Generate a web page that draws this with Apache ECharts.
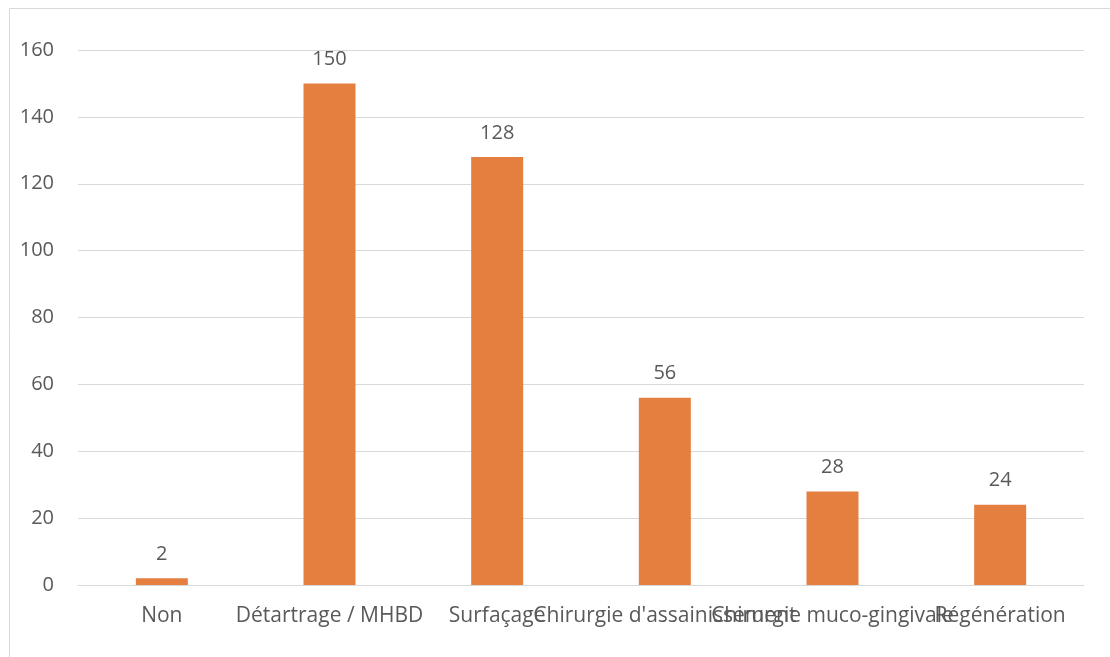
<!DOCTYPE html>
<html>
<head>
<meta charset="utf-8">
<script src="https://cdn.jsdelivr.net/npm/echarts@6/dist/echarts.min.js"></script>
<style>
  html, body { margin: 0; padding: 0; background: #fff; }
  #chart { width: 1110px; height: 657px; }
</style>
</head>
<body>
<div id="chart"></div>
<script>
const categories = ['Non', 'Détartrage / MHBD', 'Surfaçage', "Chirurgie d'assainissement", 'Chirurgie muco-gingivale', 'Régénération']
const values = [2, 150, 128, 56, 28, 24]
const yTicks = [0, 20, 40, 60, 80, 100, 120, 140, 160]

const textColor = '#595959'
const font = 'Open Sans'

const chart = echarts.init(document.getElementById('chart'))
chart.setOption({
  animation: false,
  graphic: [{
    type: 'rect',
    shape: { x: 9.5, y: 8.5, width: 1110, height: 660 },
    style: { fill: 'none', stroke: '#d9d9d9', lineWidth: 1 },
    silent: true
  }],
  grid: { left: 78, right: 26, top: 50, bottom: 72 },
  xAxis: {
    type: 'category',
    data: categories,
    axisTick: { show: false },
    axisLine: { lineStyle: { color: '#d9d9d9', width: 1 } },
    axisLabel: {
      interval: 0,
      hideOverlap: false,
      color: textColor,
      fontFamily: font,
      fontSize: 21,
      margin: 21
    }
  },
  yAxis: {
    type: 'value',
    min: yTicks[0],
    max: yTicks[yTicks.length - 1],
    interval: 20,
    axisLine: { show: false },
    axisTick: { show: false },
    splitLine: { lineStyle: { color: '#d9d9d9', width: 1 } },
    axisLabel: {
      color: textColor,
      fontFamily: font,
      fontSize: 20,
      margin: 24
    }
  },
  series: [{
    type: 'bar',
    data: values,
    barWidth: 52,
    itemStyle: { color: '#E47F40' },
    label: {
      show: true,
      position: 'top',
      distance: 14,
      color: textColor,
      fontFamily: font,
      fontSize: 20
    }
  }]
})
</script>
</body>
</html>
